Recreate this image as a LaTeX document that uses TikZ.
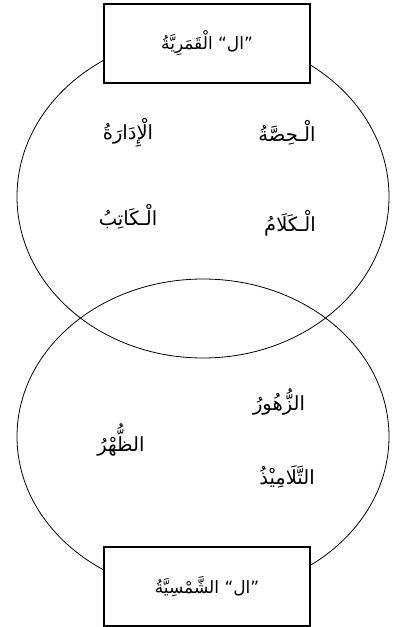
\documentclass[tikz,border=0pt]{standalone}
\usepackage{fontspec}
\usetikzlibrary{shapes.geometric}
\TeXXeTstate=1
\newfontfamily\arabicfont[Script=Arabic]{DejaVu Sans}
\begin{document}
\begin{tikzpicture}[x=1pt,y=-1pt,
  setellipse/.style={ellipse, draw, line width=0.8pt, inner sep=0pt, minimum width=372pt},
  labelbox/.style={draw, fill=white, line width=1.1pt, minimum width=206pt, minimum height=79pt, inner sep=0pt, font=\arabicfont\fontsize{17}{20}\selectfont},
  word/.style={font=\arabicfont\fontsize{19.5}{23}\selectfont, inner sep=1pt}]
\useasboundingbox (0,0) rectangle (398,627);
\node[setellipse, minimum height=322.6pt] (top) at (203,196.7) {};
\node[setellipse, minimum height=315.2pt] (bottom) at (203,436.6) {};
\node[labelbox] (qamar) at (207,43.5) {\beginR ”ال“ الْقَمَرِيَّةُ\endR};
\node[labelbox] (shams) at (207,586.5) {\beginR ”ال“ الشَّمْسِيَّةُ\endR};
\node[word] (hissa) at (287,133) {\beginR الْـحِصَّةُ\endR};
\node[word] (idara) at (128,133) {\beginR الْإِدَارَةُ\endR};
\node[word] (kalam) at (290,223) {\beginR الْـكَلَامُ\endR};
\node[word] (katib) at (128,217) {\beginR الْـكَاتِبُ\endR};
\node[word] (zuhur) at (279,402) {\beginR الزُّهُورُ\endR};
\node[word] (zuhr) at (121,440) {\beginR الظُّهْرُ\endR};
\node[word] (talamidh) at (287,477) {\beginR التَّلَامِيْذُ\endR};
\end{tikzpicture}
\end{document}
